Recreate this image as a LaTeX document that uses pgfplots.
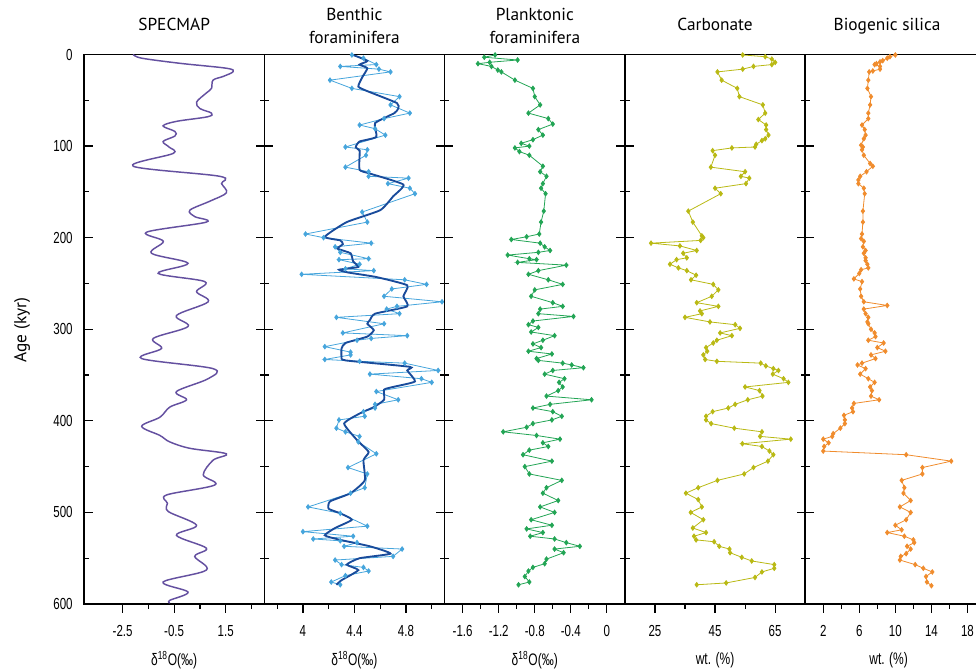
\documentclass[border=0pt]{standalone}
\usepackage{fontspec}
\setmainfont{PT Sans}
\newfontfamily\condfont[FakeStretch=0.72]{Liberation Sans}
\usepackage{pgfplots}
\pgfplotsset{compat=1.18}
\usepackage{pgfplotstable}

\definecolor{cpurple}{RGB}{100,80,160}
\definecolor{clight}{RGB}{70,165,220}
\definecolor{cdark}{RGB}{25,75,155}
\definecolor{cgreen}{RGB}{35,165,85}
\definecolor{colive}{RGB}{185,185,20}
\definecolor{corange}{RGB}{240,140,45}

\pgfplotstableread{
a v
0 -2.09
4 -1.76
9.6 -0.28
15 1.53
18.7 1.79
24 1.4
28 1.01
37 0.95
42 0.75
52 0.37
59 0.5
64 0.95
68 0.8
73 -0.41
78 -0.93
84 -0.47
89 -0.47
95 -0.93
101 -0.7
108 -0.54
122 -2.09
133 1.27
141 1.34
151 1.53
160 0.9
170 0.11
177 0.30
183 0.75
194 -1.57
204 -0.92
217 -1.38
228 0.04
239 -1.12
248 0.69
259 0.37
270 0.82
285 -0.41
297 0.04
310 -1.31
321 -0.99
332 -1.76
343 1.01
354 0.82
368 -0.41
377 -0.02
385 -0.67
396 -1.05
406 -1.76
416 -1.05
423 -0.67
430 0.11
436 1.53
443 1.01
459 0.63
470 1.08
481 -0.80
490 -0.76
499 -0.73
514 0.37
525 -0.41
539 0.75
548 0.30
563 0.75
576 -0.93
587 0.04
596 -0.67
599 -0.67
}\specmap

\pgfplotstableread{
a v
0.5 4.38
4 4.47
11 4.57
13 4.29
16 4.59
19 4.68
28 4.21
37 4.38
46 4.75
55 4.68
64 4.83
70 4.63
77 4.44
81 4.56
88 4.64
101 4.33
104 4.50
110 4.49
123 4.33
128 4.51
133 4.51
135 4.82
141 4.66
146 4.83
152 4.87
172 4.46
183 4.50
196 4.02
200 4.16
206 4.53
210 4.25
216 4.29
223 4.51
224 4.28
229 4.44
234 4.33
236 4.55
240 3.99
246 4.79
251 4.96
256 4.69
264 4.63
270 5.08
275 4.73
278 4.65
283 4.75
287 4.26
294 4.63
304 4.31
307 4.81
310 4.53
312 4.42
319 4.17
325 4.37
328 4.37
333 4.17
335 4.44
337 4.79
345 5.05
349 4.52
354 4.92
358 5.00
368 4.57
377 4.74
382 4.56
386 4.56
390 4.47
395 4.48
399 4.28
408 4.26
412 4.33
417 4.44
423 4.43
436 4.57
451 4.35
458 4.50
473 4.48
479 4.37
494 4.04
501 4.29
515 4.50
521 4.00
526 4.39
529 4.08
531 4.29
533 4.42
537 4.32
540 4.77
548 4.70
552 4.25
557 4.30
560 4.47
564 4.51
569 4.33
576 4.22
579 4.29
}\benthic

\pgfplotstableread{
a v
0 4.38
7 4.50
11 4.44
15 4.50
25 4.46
35 4.43
40 4.50
53 4.73
59 4.74
64 4.71
75 4.56
90 4.57
95 4.44
101 4.41
105 4.44
110 4.44
126 4.44
130 4.52
142 4.78
155 4.70
170 4.60
183 4.34
199 4.17
203 4.29
207 4.31
212 4.27
217 4.37
226 4.39
232 4.43
235 4.28
238 4.35
243 4.57
252 4.81
264 4.78
275 4.81
283 4.56
290 4.52
294 4.50
301 4.55
308 4.50
315 4.33
321 4.30
330 4.30
334 4.33
341 4.83
345 4.81
357 4.87
363 4.70
366 4.63
377 4.63
385 4.55
392 4.44
403 4.32
421 4.42
434 4.51
443 4.47
465 4.48
479 4.37
488 4.21
496 4.20
501 4.29
508 4.38
517 4.25
525 4.17
530 4.29
537 4.52
545 4.68
550 4.44
557 4.34
563 4.43
574 4.30
579 4.26
}\benthicsmooth

\pgfplotstableread{
a v
0.5 -1.24
3 -1.36
6 -0.99
8.5 -1.30
10 -1.43
13 -1.28
17 -1.21
19 -1.17
28 -1.02
37 -0.82
46 -0.80
55 -0.74
64 -0.87
70 -0.65
76 -0.60
82 -0.76
88 -0.71
93 -0.82
97 -0.95
100 -0.86
102 -1.02
106 -0.97
110 -0.86
122 -0.71
128 -0.74
133 -0.67
141 -0.71
146 -0.73
152 -0.68
171 -0.70
183 -0.73
196 -0.75
199 -0.89
202 -1.06
206 -0.74
210 -0.69
214 -0.63
216 -0.76
219 -1.10
223 -0.86
224 -0.78
227 -0.99
230 -0.45
236 -0.76
240 -0.87
246 -0.65
251 -0.49
257 -0.80
264 -0.84
271 -0.60
275 -0.49
278 -0.74
283 -0.76
286 -0.37
291 -0.82
295 -0.87
298 -0.76
303 -0.84
307 -0.58
312 -0.71
316 -0.82
320 -0.73
324 -0.87
327 -0.61
332 -0.78
334 -0.76
337 -0.49
339 -0.39
342 -0.26
345 -0.60
349 -0.69
354 -0.47
358 -0.53
363 -0.49
367 -0.54
373 -0.67
377 -0.17
382 -0.63
386 -0.82
390 -0.60
395 -0.50
399 -0.61
403 -0.82
407 -0.89
412 -1.15
416 -0.78
420 -0.52
424 -0.71
428 -0.65
432 -0.86
437 -0.93
444 -0.61
450 -0.91
458 -0.86
465 -0.50
473 -0.67
479 -0.71
487 -0.54
494 -0.74
500 -0.58
508 -0.84
514 -0.61
518 -0.89
522 -0.71
526 -0.85
529 -0.58
533 -0.45
537 -0.30
540 -0.58
544 -0.48
551 -0.67
556 -0.69
560 -0.82
564 -0.87
570 -0.91
576 -0.86
579 -0.98
}\planktonic

\pgfplotstableread{
a v
0.5 54.2
2.4 61.7
5 63.9
8.6 65.0
11 63.9
13 57.8
16 54.2
19 45.8
28 47.2
37 52.4
46 53.1
55 60.9
64 61.7
71 59.4
77 62.0
82 62.0
88 62.8
92 61.7
94 60.6
98 58.7
101 58.3
102 50.6
105 44.2
110 45.0
123 43.6
128 55.0
133 53.6
135 56.4
141 55.3
146 45.0
152 46.9
171 36.1
183 37.6
198 40.6
200 41.1
203 40.2
206 23.7
209 33.3
214 38.9
217 34.4
222 35.6
224 32.2
229 30.0
233 32.8
236 35.6
241 38.7
246 37.0
251 44.4
257 46.1
264 43.9
271 38.9
275 46.1
280 40.0
283 40.6
287 35.0
292 43.3
295 51.7
299 53.3
304 46.7
307 50.6
312 45.6
315 44.4
320 42.0
324 42.4
328 41.1
333 41.7
335 45.6
337 60.2
340 61.9
343 64.4
345 66.1
349 64.2
354 67.8
358 69.4
363 55.0
367 59.8
373 60.8
377 55.9
382 51.7
386 49.4
390 44.2
395 42.0
399 42.0
403 43.7
408 51.4
412 60.6
417 60.0
420 70.2
425 54.1
428 60.6
433 63.1
437 64.4
444 62.6
451 57.8
458 54.7
465 45.8
473 39.4
479 35.3
486 39.4
494 40.6
500 36.9
508 41.1
517 37.6
522 42.0
526 38.0
530 38.7
532 44.7
537 46.4
540 49.8
544 50.0
549 53.9
553 57.2
557 64.7
561 64.7
565 60.6
571 58.3
577 48.7
579 38.9
}\carbonate

\pgfplotstableread{
a v
0.5 10.0
2.4 9.4
4 9.1
6.7 8.6
8 8.3
10 7.9
11 7.7
13 8.3
16 8.3
18 7.5
19 7.1
28 7.0
37 6.9
46 7.3
55 7.2
64 7.0
70 7.0
77 6.3
82 6.6
88 6.7
92 6.5
99 6.2
101 6.4
104 6.3
110 6.5
119 7.2
122 7.5
128 6.8
133 6.1
137 5.9
141 5.9
146 6.5
152 6.6
171 6.4
183 6.4
196 6.3
201 6.2
204 6.5
210 6.4
214 6.7
217 6.5
222 6.7
225 6.7
229 6.9
233 7.0
235 6.2
239 6.0
245 5.4
248 6.3
256 6.1
264 6.2
270 6.5
274 9.1
278 6.5
283 6.7
287 7.0
292 6.9
294 7.0
300 7.3
304 7.7
308 7.8
312 7.0
315 8.7
320 8.0
324 8.9
328 7.3
332 7.8
337 6.3
339 5.8
343 6.7
349 6.1
354 7.0
358 7.7
363 7.2
367 7.4
373 7.3
377 8.2
381 5.4
386 5.2
390 5.3
394 4.3
399 4.4
403 4.4
408 3.9
414 3.1
417 3.0
420 2.0
424 2.6
428 2.1
433 2.0
437 11.2
444 16.2
451 13.0
458 13.0
465 10.7
473 11.0
479 10.9
487 11.7
494 10.5
500 11.7
508 11.2
514 10.0
519 10.7
522 9.1
526 11.0
530 12.0
533 12.1
537 11.3
540 11.7
545 11.2
548 10.6
552 10.5
557 12.2
561 13.1
565 14.1
570 13.4
576 13.5
580 14.0
}\silica

\pgfplotsset{
  panel/.style={
    scale only axis, width=135.225pt, height=412.125pt,
    anchor=south west,
    y dir=reverse, ymin=0, ymax=600,
    ytick={0,100,...,600}, minor ytick={50,150,...,550},
    ytick pos=both, ytick align=inside,
    xtick pos=bottom, xtick align=outside,
    major tick length=6.5pt, minor tick length=3.5pt,
    every tick/.style={black, line width=0.9pt},
    every minor tick/.style={black, line width=0.9pt},
    axis line style={black, line width=1.1pt},
    /pgf/number format/assume math mode=true,
    /pgf/number format/fixed,
    tick label style={font=\condfont\fontsize{12}{14}\selectfont},
    xticklabel style={yshift=-6pt},
    yticklabels={},
    xlabel style={at={(axis description cs:0.5,0)}, anchor=center, yshift=-42pt,
      font=\condfont\fontsize{12.5}{14}\selectfont},
  },
  mk/.style={mark=diamond*, mark size=1.7pt, mark options={solid}},
}

\begin{document}
\begin{tikzpicture}
% Panel 1
\begin{axis}[panel, at={(0pt,0pt)}, xmin=-4, xmax=3,
  xtick={-2.5,-0.5,1.5}, minor xtick={-1.5,0.5,2.5},
  yticklabels={0,100,200,300,400,500,600},
  yticklabel style={xshift=-5pt},
  xlabel={δ\textsuperscript{18}O(‰)}]
\addplot[cpurple, line width=1.1pt, smooth, tension=0.55] table[x=v,y=a] {\specmap};
\end{axis}
% Panel 2
\begin{axis}[panel, at={(135.225pt,0pt)}, xmin=3.7, xmax=5.1,
  xtick={4,4.4,4.8}, minor xtick={3.8,4.2,4.6,5.0},
  xlabel={δ\textsuperscript{18}O(‰)}]
\addplot[clight, line width=0.6pt, mk] table[x=v,y=a] {\benthic};
\addplot[cdark, line width=1.4pt, smooth, tension=0.3] table[x=v,y=a] {\benthicsmooth};
\end{axis}
% Panel 3
\begin{axis}[panel, at={(270.45pt,0pt)}, xmin=-1.8, xmax=0.2,
  xtick={-1.6,-1.2,-0.8,-0.4,0}, minor xtick={-1.4,-1.0,-0.6,-0.2},
  xlabel={δ\textsuperscript{18}O(‰)}]
\addplot[cgreen, line width=0.6pt, mk] table[x=v,y=a] {\planktonic};
\end{axis}
% Panel 4
\begin{axis}[panel, at={(405.675pt,0pt)}, xmin=15, xmax=75,
  xtick={25,45,65}, minor xtick={35,55},
  xlabel={wt. (\%)}]
\addplot[colive, line width=0.6pt, mk] table[x=v,y=a] {\carbonate};
\end{axis}
% Panel 5
\begin{axis}[panel, at={(540.9pt,0pt)}, xmin=0, xmax=20,
  xtick={2,6,10,14,18}, minor xtick={4,8,12,16},
  xlabel={wt. (\%)}, xlabel style={xshift=-5pt}]
\addplot[corange, line width=0.6pt, mk] table[x=v,y=a] {\silica};
\end{axis}

% titles
\begin{scope}[every node/.style={font=\fontsize{13}{15}\selectfont, anchor=base, inner sep=0pt}]
\node at (67.6pt,430pt) {SPECMAP};
\node at (202.8pt,437.5pt) {Benthic};
\node at (202.8pt,420.5pt) {foraminifera};
\node at (338.1pt,437.5pt) {Planktonic};
\node at (338.1pt,420.5pt) {foraminifera};
\node at (473.3pt,430pt) {Carbonate};
\node at (602.3pt,430pt) {Biogenic silica};
\end{scope}
\node[rotate=90, font=\fontsize{13}{15}\selectfont, anchor=center] at (-46.5pt,205.5pt) {Age (kyr)};

\pgfresetboundingbox
\useasboundingbox (-63pt,-50.25pt) rectangle (669pt,453pt);
\end{tikzpicture}
\end{document}
